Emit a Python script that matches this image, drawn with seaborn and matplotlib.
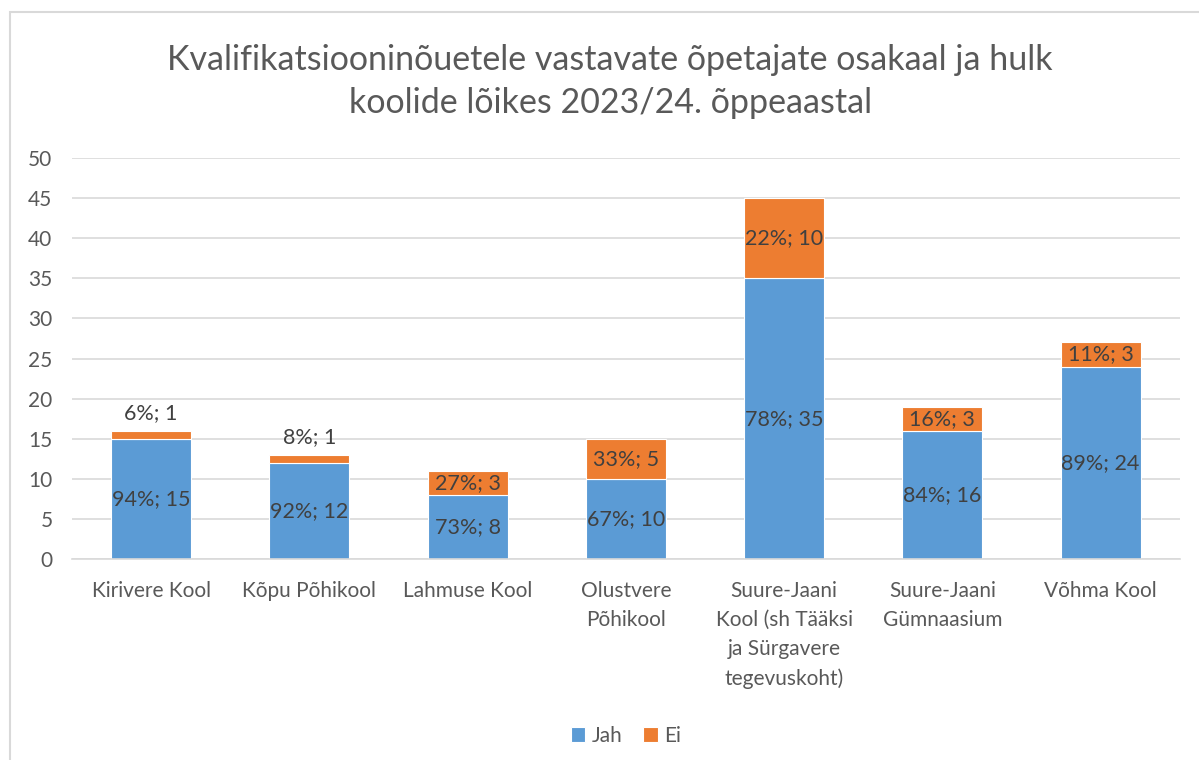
import matplotlib
matplotlib.use("Agg")
import matplotlib.pyplot as plt
import seaborn as sns
import pandas as pd
from matplotlib.patches import Rectangle

schools = ["Kirivere Kool", "Kõpu Põhikool", "Lahmuse Kool", "Olustvere\nPõhikool",
           "Suure-Jaani\nKool (sh Tääksi\nja Sürgavere\ntegevuskoht)",
           "Suure-Jaani\nGümnaasium", "Võhma Kool"]
jah = [15, 12, 8, 10, 35, 16, 24]
ei = [1, 1, 3, 5, 10, 3, 3]
jah_pct = [94, 92, 73, 67, 78, 84, 89]
ei_pct = [6, 8, 27, 33, 22, 16, 11]

BLUE = "#5B9BD5"
ORANGE = "#ED7D31"
TXT = "#404040"

sns.set_theme(style="white")
plt.rcParams['font.family'] = ['Lato', 'DejaVu Sans']

df = pd.DataFrame({"Kool": schools, "Jah": jah, "Ei": ei})

fig = plt.figure(figsize=(11.99, 7.6), dpi=100)
ax = fig.add_axes([0.060, 0.2645, 0.924, 0.5275])

sns.barplot(data=df, x="Kool", y="Jah", color=BLUE, saturation=1, width=0.505,
            edgecolor="white", linewidth=0.8, ax=ax, label="Jah")
sns.barplot(data=df, x="Kool", y="Ei", color=ORANGE, saturation=1, width=0.505,
            bottom=df["Jah"], edgecolor="white", linewidth=0.8, ax=ax, label="Ei")

ax.set_ylim(0, 50)
ax.set_xlim(-0.5, len(schools) - 0.5)
ax.set_yticks(range(0, 51, 5))
ax.yaxis.grid(True, color="#D9D9D9", linewidth=1.2)
ax.set_axisbelow(True)
for s in ["left", "right", "top"]:
    ax.spines[s].set_visible(False)
ax.spines["bottom"].set_color("#D9D9D9")
ax.spines["bottom"].set_linewidth(1.2)
ax.tick_params(axis="both", length=0, labelsize=15, colors="#595959")
ax.tick_params(axis="x", pad=16)
ax.tick_params(axis="y", pad=14)
ax.set_xlabel("")
ax.set_ylabel("")
for lab in ax.get_xticklabels():
    lab.set_linespacing(1.55)

# data labels
for i in range(len(schools)):
    ax.text(i, jah[i] / 2, f"{jah_pct[i]}%; {jah[i]}", ha="center", va="center",
            fontsize=15.5, color=TXT)
    if ei[i] < 2:
        ax.text(i, jah[i] + ei[i] + 0.9, f"{ei_pct[i]}%; {ei[i]}", ha="center",
                va="bottom", fontsize=15.5, color=TXT)
    else:
        ax.text(i, jah[i] + ei[i] / 2, f"{ei_pct[i]}%; {ei[i]}", ha="center",
                va="center", fontsize=15.5, color=TXT)

fig.suptitle("Kvalifikatsiooninõuetele vastavate õpetajate osakaal ja hulk\nkoolide lõikes 2023/24. õppeaastal",
             x=0.509, y=0.942, fontsize=24.5, color="#595959", linespacing=1.42)

ax.legend(loc="upper center", bbox_to_anchor=(0.5, -0.37), ncol=2, frameon=False,
          fontsize=15, handlelength=0.7, handleheight=0.7, handletextpad=0.3,
          columnspacing=1.0, labelcolor="#595959")

fig.patches.append(Rectangle((10 / 1199, -0.01), 1.0, 1 - 12 / 760 + 0.01,
                             transform=fig.transFigure, fill=False,
                             edgecolor="#D9D9D9", linewidth=1.5))

fig.savefig("out.png", dpi=100)
